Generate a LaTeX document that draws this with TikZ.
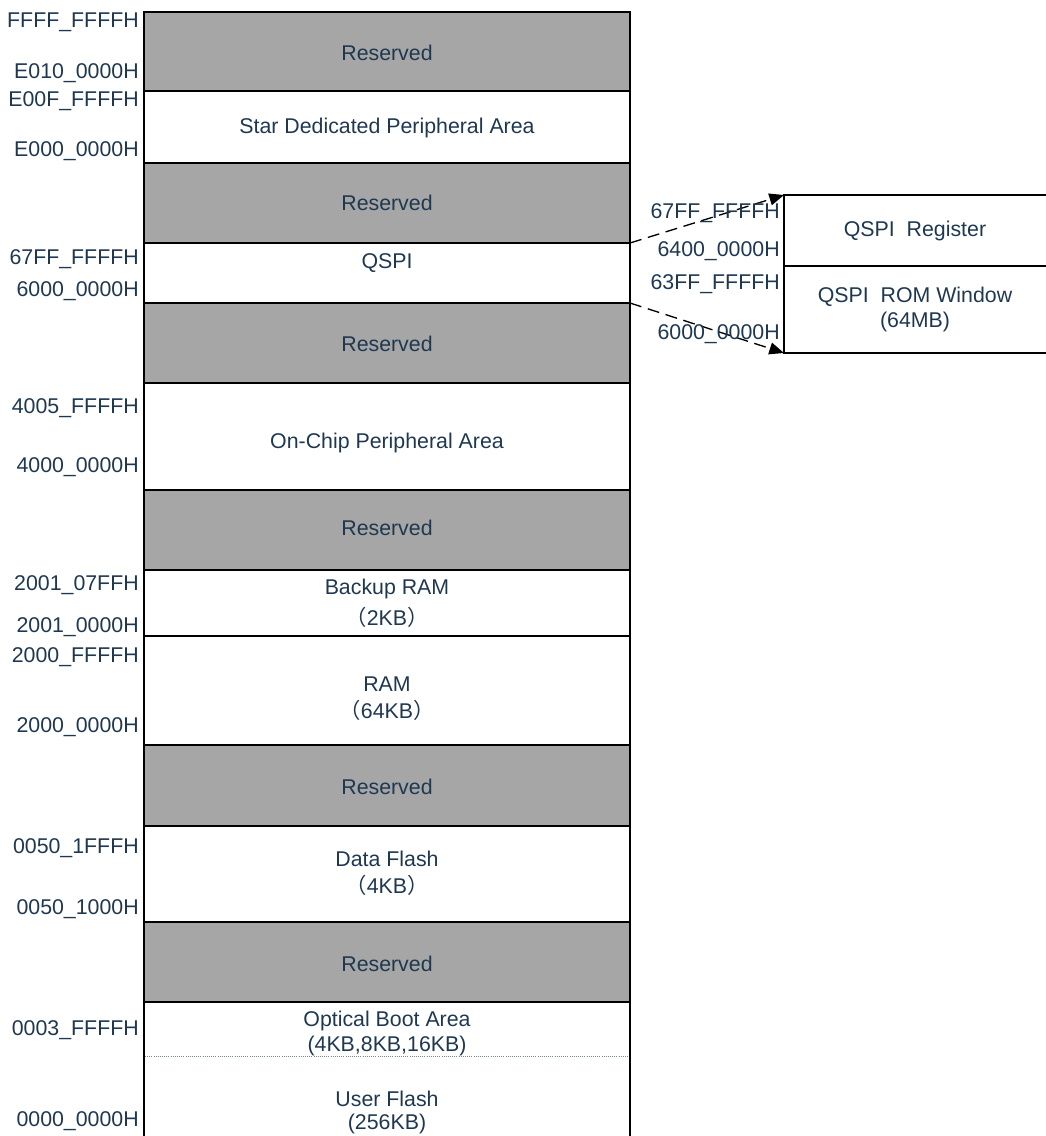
\documentclass[tikz,border=0pt]{standalone}
\usepackage{fontspec}
\setmainfont{Liberation Sans}
\newfontfamily\cjkfont{Noto Sans CJK SC}
\usetikzlibrary{fit,arrows.meta}
\definecolor{txt}{RGB}{31,56,80}
\definecolor{resv}{RGB}{166,166,166}
\begin{document}
\begin{tikzpicture}[x=0.75pt,y=-0.75pt,
  region/.style={draw=black,line width=1.5pt,inner sep=0pt,outer sep=0pt},
  resvbox/.style={region,fill=resv},
  lbl/.style={text=txt,font=\fontsize{16}{19}\selectfont,inner sep=0pt},
  addr/.style={lbl,anchor=east},
  conn/.style={dashed,dash pattern=on 9pt off 5pt,line width=1pt,-{Triangle[length=11pt,width=9pt]}}
]
\useasboundingbox (0,0) rectangle (1046,1136);
\clip (0,0) rectangle (1046,1136);
% main column regions
\node[resvbox,fit={(144,12) (630,91)}] (r1) {};
\node[region,fit={(144,91) (630,163)}] (star) {};
\node[resvbox,fit={(144,163) (630,243)}] (r2) {};
\node[region,fit={(144,243) (630,303)}] (qspi) {};
\node[resvbox,fit={(144,303) (630,383)}] (r3) {};
\node[region,fit={(144,383) (630,490)}] (onchip) {};
\node[resvbox,fit={(144,490) (630,570)}] (r4) {};
\node[region,fit={(144,570) (630,636)}] (bram) {};
\node[region,fit={(144,636) (630,745)}] (ram) {};
\node[resvbox,fit={(144,745) (630,826)}] (r5) {};
\node[region,fit={(144,826) (630,922)}] (dflash) {};
\node[resvbox,fit={(144,922) (630,1002)}] (r6) {};
\node[region,fit={(144,1002) (630,1140)}] (uflash) {};
\coordinate (dotL) at (145,1056);
\coordinate (dotR) at (629,1056);
\draw[densely dotted,line width=0.6pt,color=txt!60] (dotL) -- (dotR);
% right box
\node[region,fit={(784,195) (1050,266)}] (qreg) {};
\node[region,fit={(784,266) (1050,353)}] (qrom) {};
% connectors
\draw[conn] (qspi.north east) -- (qreg.north west);
\draw[conn] (qspi.south east) -- (qrom.south west);
% texts in boxes
\node[lbl] (t1) at (387,53) {Reserved};
\node[lbl] (t2) at (387,128) {Star Dedicated Peripheral Area};
\node[lbl] (t3) at (387,203) {Reserved};
\node[lbl] (t4) at (387,263) {QSPI};
\node[lbl] (t5) at (387,344) {Reserved};
\node[lbl] (t6) at (387,443) {On-Chip Peripheral Area};
\node[lbl] (t7) at (387,528) {Reserved};
\node[lbl] (t8) at (387,589) {Backup RAM};
\node[lbl] (t8b) at (387,617) {{\cjkfont （}2KB{\cjkfont ）}};
\node[lbl] (t9) at (387,684) {RAM};
\node[lbl] (t9b) at (387,710) {{\cjkfont （}64KB{\cjkfont ）}};
\node[lbl] (t10) at (387,787) {Reserved};
\node[lbl] (t11) at (387,859) {Data Flash};
\node[lbl] (t11b) at (387,885) {{\cjkfont （}4KB{\cjkfont ）}};
\node[lbl] (t12) at (387,964) {Reserved};
\node[lbl] (t13) at (387,1021) {Optical Boot Area};
\node[lbl] (t13b) at (387,1046) {(4KB,8KB,16KB)};
\node[lbl] (t14) at (387,1099) {User Flash};
\node[lbl] (t14b) at (387,1124) {(256KB)};
\node[lbl] (t15) at (915,231) {QSPI\ \ Register};
\node[lbl] (t16) at (915,297) {QSPI\ \ ROM Window};
\node[lbl] (t16b) at (915,322) {(64MB)};
% address labels
\node[addr] (a1) at (139,22) {FFFF\_FFFFH};
\node[addr] (a2) at (139,73) {E010\_0000H};
\node[addr] (a3) at (139,101) {E00F\_FFFFH};
\node[addr] (a4) at (139,151) {E000\_0000H};
\node[addr] (a5) at (139,259) {67FF\_FFFFH};
\node[addr] (a6) at (139,291) {6000\_0000H};
\node[addr] (a7) at (139,408) {4005\_FFFFH};
\node[addr] (a8) at (139,467) {4000\_0000H};
\node[addr] (a9) at (139,585) {2001\_07FFH};
\node[addr] (a10) at (139,627) {2001\_0000H};
\node[addr] (a11) at (139,657) {2000\_FFFFH};
\node[addr] (a12) at (139,727) {2000\_0000H};
\node[addr] (a13) at (139,848) {0050\_1FFFH};
\node[addr] (a14) at (139,909) {0050\_1000H};
\node[addr] (a15) at (139,1030) {0003\_FFFFH};
\node[addr] (a16) at (139,1121) {0000\_0000H};
\node[addr] (b1) at (780,213) {67FF\_FFFFH};
\node[addr] (b2) at (780,251) {6400\_0000H};
\node[addr] (b3) at (780,284) {63FF\_FFFFH};
\node[addr] (b4) at (780,334) {6000\_0000H};
\end{tikzpicture}
\end{document}
